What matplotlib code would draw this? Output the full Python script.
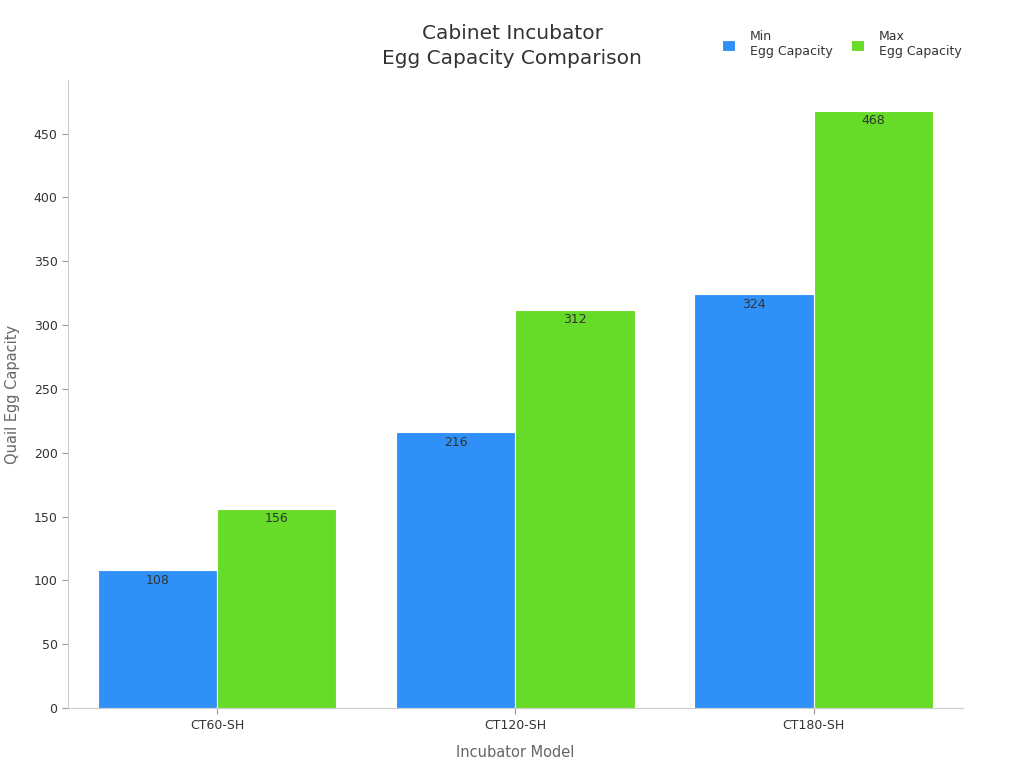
import matplotlib
matplotlib.use('Agg')
import matplotlib.pyplot as plt
import numpy as np

plt.rcParams['font.family'] = ['DejaVu Sans']

# Chart data
models = ['CT60-SH', 'CT120-SH', 'CT180-SH']
min_capacity = [108, 216, 324]
max_capacity = [156, 312, 468]
series_names = ['Min\nEgg Capacity', 'Max\nEgg Capacity']

MIN_COLOR = '#2f91f7'
MAX_COLOR = '#66db28'
TEXT_COLOR = '#333333'
SPINE_COLOR = '#cccccc'

fig = plt.figure(figsize=(10.24, 7.68), dpi=100)
ax = fig.add_axes([0.0664, 0.078, 0.874, 0.818])

x = np.arange(len(models))
width = 0.4
bars_min = ax.bar(x - width / 2, min_capacity, width, color=MIN_COLOR,
                  edgecolor='white', linewidth=0.8, label=series_names[0])
bars_max = ax.bar(x + width / 2, max_capacity, width, color=MAX_COLOR,
                  edgecolor='white', linewidth=0.8, label=series_names[1])

# Value labels just inside the top of each bar
for bars in (bars_min, bars_max):
    for bar in bars:
        ax.annotate(f'{bar.get_height():.0f}',
                    (bar.get_x() + bar.get_width() / 2, bar.get_height()),
                    xytext=(0, -2.5), textcoords='offset points',
                    ha='center', va='top', fontsize=9, color=TEXT_COLOR)

ax.set_xlim(-0.5, 2.5)
ax.set_ylim(0, 492)
ax.set_yticks(range(0, 451, 50))
ax.set_xticks(x)
ax.set_xticklabels(models)
ax.tick_params(axis='both', labelsize=9, colors=TEXT_COLOR, length=4)
ax.tick_params(axis='both', color='#999999')

for side in ('top', 'right'):
    ax.spines[side].set_visible(False)
for side in ('left', 'bottom'):
    ax.spines[side].set_color(SPINE_COLOR)

ax.set_xlabel('Incubator Model', fontsize=10.5, color='#666666', labelpad=10)
ax.set_ylabel('Quail Egg Capacity', fontsize=10.5, color='#666666', labelpad=10)

fig.text(0.5, 0.94, 'Cabinet Incubator\nEgg Capacity Comparison', ha='center',
         va='center', fontsize=14.5, color=TEXT_COLOR, linespacing=1.4)

fig.legend(loc='upper right', bbox_to_anchor=(0.95, 0.975), ncol=2, frameon=False,
           fontsize=9, handlelength=1.0, handleheight=1.0, handletextpad=1.2,
           columnspacing=1.5, labelcolor=TEXT_COLOR)

fig.savefig('out.png', dpi=100, facecolor='white')
